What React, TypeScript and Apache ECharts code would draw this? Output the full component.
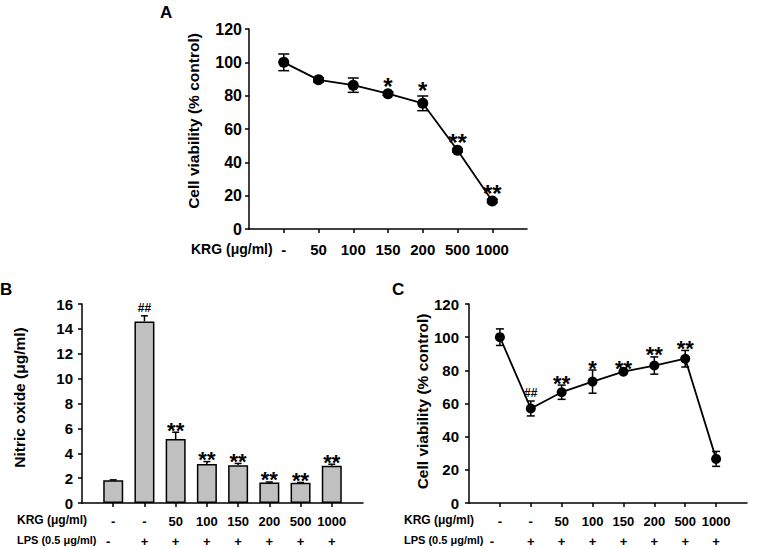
import React, { useEffect, useRef } from 'react';
import * as echarts from 'echarts';

// Panel A
const krgA = ['-', '50', '100', '150', '200', '500', '1000'];
const viabilityA = [100, 89.5, 86.3, 81.2, 75.4, 47.2, 16.8];
const viabilityAErr = [5, 1.3, 4.3, 1, 4.4, 1, 1];
const sigA = ['', '', '', '*', '*', '**', '**'];

// Panels B and C
const krgBC = ['-', '-', '50', '100', '150', '200', '500', '1000'];
const lpsBC = ['-', '+', '+', '+', '+', '+', '+', '+'];
const nitricOxide = [1.82, 14.6, 5.14, 3.13, 3.03, 1.65, 1.62, 3.0];
const nitricOxideErr = [0.04, 0.45, 0.55, 0.2, 0.15, 0.04, 0.03, 0.12];
const sigB = ['', '##', '**', '**', '**', '**', '**', '**'];

const viabilityC = [100, 57, 66.8, 73.2, 79.2, 82.9, 87, 26.6];
const viabilityCErr = [5, 4.5, 4.3, 7, 1, 5.2, 5, 4.5];
const sigC = ['', '##', '**', '*', '**', '**', '**', ''];

const FONT = '"Liberation Sans", Arial, sans-serif';
const BLACK = '#000';

const catsA = ['', ...krgA, ''];
const catsBC = ['', ...krgBC, ''];

function errRender(cap: number, upperOnly: boolean) {
  return (params: any, api: any) => {
    const x = api.value(0);
    const lo = api.value(1);
    const hi = api.value(2);
    const pHi = api.coord([x, hi]);
    const pLo = api.coord([x, lo]);
    const style = { stroke: BLACK, lineWidth: 1.5 };
    const children: any[] = [
      { type: 'line', shape: { x1: pHi[0], y1: pHi[1], x2: pLo[0], y2: pLo[1] }, style },
      { type: 'line', shape: { x1: pHi[0] - cap / 2, y1: pHi[1], x2: pHi[0] + cap / 2, y2: pHi[1] }, style },
    ];
    if (!upperOnly) {
      children.push({ type: 'line', shape: { x1: pLo[0] - cap / 2, y1: pLo[1], x2: pLo[0] + cap / 2, y2: pLo[1] }, style });
    }
    return { type: 'group', children };
  };
}

function sigData(values: number[], errs: number[], sigs: string[], starSize: number, starOff: number) {
  const out: any[] = [];
  values.forEach((v, i) => {
    const s = sigs[i];
    if (!s) return;
    const hash = s.startsWith('#');
    out.push({
      value: [i + 1, v + errs[i]],
      label: {
        show: true,
        position: 'inside',
        formatter: s,
        fontFamily: FONT,
        fontWeight: 'bold',
        fontSize: hash ? 12 : starSize,
        color: BLACK,
        textBorderWidth: 0,
        opacity: 1,
        offset: [0, hash ? -8 : starOff],
      },
    });
  });
  return out;
}

function yAxis(gridIndex: number, max: number, interval: number, name: string, nameGap: number, labelSize: number, margin: number, shiftUp: number) {
  return {
    type: 'value',
    gridIndex,
    min: 0,
    max,
    interval,
    name,
    nameLocation: 'middle',
    nameGap,
    nameTextStyle: { fontFamily: FONT, fontWeight: 'bold', fontSize: 15.5, color: BLACK, padding: [0, 0, 0, shiftUp * 2] },
    axisLine: { show: true, lineStyle: { color: BLACK, width: 1.5 } },
    axisTick: { show: true, inside: false, length: 4, lineStyle: { color: BLACK, width: 1.5 } },
    axisLabel: { fontFamily: FONT, fontWeight: 'bold', fontSize: labelSize, color: BLACK, margin },
    splitLine: { show: false },
  };
}

export default function App() {
  const ref = useRef<HTMLDivElement>(null);
  useEffect(() => {
    if (!ref.current) return;
    const chart = echarts.init(ref.current, undefined, { renderer: 'svg' });

    const lastBC = catsBC.length - 1;
    const xAxisBC = (gridIndex: number, lfPad: number) => ({
      type: 'category',
      gridIndex,
      data: catsBC,
      boundaryGap: false,
      axisLine: { show: true, lineStyle: { color: BLACK, width: 1.5 } },
      axisTick: { show: true, length: 4, interval: (i: number) => i > 0 && i < lastBC, lineStyle: { color: BLACK, width: 1.5 } },
      axisLabel: {
        interval: 0,
        margin: 8,
        formatter: (_v: string, i: number) => {
          if (i < 1 || i > krgBC.length) return '';
          const lps = lpsBC[i - 1];
          return `{k|${krgBC[i - 1]}}\n{${i === 1 ? 'lf' : 'l'}|${lps}}`;
        },
        rich: {
          k: { fontFamily: FONT, fontWeight: 'bold', fontSize: 13, color: BLACK, lineHeight: 20 },
          l: { fontFamily: FONT, fontWeight: 'bold', fontSize: 13, color: BLACK, lineHeight: 20 },
          lf: { fontFamily: FONT, fontWeight: 'bold', fontSize: 13, color: BLACK, lineHeight: 20, padding: [0, lfPad, 0, 0] },
        },
      },
      splitLine: { show: false },
    });

    const lastA = catsA.length - 1;

    chart.setOption({
      animation: false,
      backgroundColor: '#fff',
      grid: [
        { left: 249, top: 29, width: 278, height: 200, containLabel: false, outerBoundsMode: 'none' },
        { left: 82, top: 304, width: 281, height: 199, containLabel: false, outerBoundsMode: 'none' },
        { left: 469, top: 304, width: 278, height: 199, containLabel: false, outerBoundsMode: 'none' },
      ],
      xAxis: [
        {
          type: 'category',
          gridIndex: 0,
          data: catsA,
          boundaryGap: false,
          axisLine: { show: true, lineStyle: { color: BLACK, width: 1.5 } },
          axisTick: { show: true, length: 4, interval: (i: number) => i > 0 && i < lastA, lineStyle: { color: BLACK, width: 1.5 } },
          axisLabel: { interval: 0, margin: 13, fontFamily: FONT, fontWeight: 'bold', fontSize: 15, color: BLACK },
          splitLine: { show: false },
        },
        xAxisBC(1, 10),
        xAxisBC(2, 16),
      ],
      yAxis: [
        yAxis(0, 120, 20, 'Cell viability (% control)', 48, 16, 7, 8),
        yAxis(1, 16, 2, 'Nitric oxide (μg/ml)', 55, 15, 9, 6),
        yAxis(2, 120, 20, 'Cell viability (% control)', 39, 15, 10, 2),
      ],
      series: [
        {
          type: 'line',
          xAxisIndex: 0,
          yAxisIndex: 0,
          data: viabilityA.map((v, i) => [i + 1, v]),
          symbol: 'circle',
          symbolSize: 11,
          lineStyle: { color: BLACK, width: 1.8 },
          itemStyle: { color: BLACK },
          z: 2,
        },
        {
          type: 'custom',
          xAxisIndex: 0,
          yAxisIndex: 0,
          renderItem: errRender(11, false),
          encode: { x: 0, y: [1, 2] },
          data: viabilityA.map((v, i) => [i + 1, v - viabilityAErr[i], v + viabilityAErr[i]]),
          z: 3,
        },
        {
          type: 'scatter',
          xAxisIndex: 0,
          yAxisIndex: 0,
          symbolSize: 0,
          itemStyle: { color: BLACK, opacity: 1 },
          data: sigData(viabilityA, viabilityAErr, sigA, 24, -6),
          z: 4,
        },
        {
          type: 'bar',
          xAxisIndex: 1,
          yAxisIndex: 1,
          barWidth: 20,
          data: nitricOxide.map((v, i) => [i + 1, v]),
          itemStyle: { color: '#c0c0c0', borderColor: BLACK, borderWidth: 1.5 },
          z: 2,
        },
        {
          type: 'custom',
          xAxisIndex: 1,
          yAxisIndex: 1,
          renderItem: errRender(7, true),
          encode: { x: 0, y: [1, 2] },
          data: nitricOxide.map((v, i) => [i + 1, v, v + nitricOxideErr[i]]),
          z: 3,
        },
        {
          type: 'scatter',
          xAxisIndex: 1,
          yAxisIndex: 1,
          symbolSize: 0,
          itemStyle: { color: BLACK, opacity: 1 },
          data: sigData(nitricOxide, nitricOxideErr, sigB, 22, -2),
          z: 4,
        },
        {
          type: 'line',
          xAxisIndex: 2,
          yAxisIndex: 2,
          data: viabilityC.map((v, i) => [i + 1, v]),
          symbol: 'circle',
          symbolSize: 10,
          lineStyle: { color: BLACK, width: 1.8 },
          itemStyle: { color: BLACK },
          z: 2,
        },
        {
          type: 'custom',
          xAxisIndex: 2,
          yAxisIndex: 2,
          renderItem: errRender(8, false),
          encode: { x: 0, y: [1, 2] },
          data: viabilityC.map((v, i) => [i + 1, v - viabilityCErr[i], v + viabilityCErr[i]]),
          z: 3,
        },
        {
          type: 'scatter',
          xAxisIndex: 2,
          yAxisIndex: 2,
          symbolSize: 0,
          itemStyle: { color: BLACK, opacity: 1 },
          data: sigData(viabilityC, viabilityCErr, sigC, 22, -2),
          z: 4,
        },
      ],
      graphic: [
        { type: 'text', left: 160, top: 4, style: { text: 'A', font: `bold 17px ${FONT}`, fill: BLACK } },
        { type: 'text', left: 0, top: 281, style: { text: 'B', font: `bold 17px ${FONT}`, fill: BLACK } },
        { type: 'text', left: 392, top: 281, style: { text: 'C', font: `bold 17px ${FONT}`, fill: BLACK } },
        { type: 'text', left: 191, top: 242, style: { text: 'KRG (μg/ml)', font: `bold 14px ${FONT}`, fill: BLACK } },
        { type: 'text', left: 17, top: 514, style: { text: 'KRG (μg/ml)', font: `bold 12px ${FONT}`, fill: BLACK } },
        { type: 'text', left: 17, top: 534, style: { text: 'LPS (0.5 μg/ml)', font: `bold 11px ${FONT}`, fill: BLACK } },
        { type: 'text', left: 404, top: 514, style: { text: 'KRG (μg/ml)', font: `bold 12px ${FONT}`, fill: BLACK } },
        { type: 'text', left: 404, top: 534, style: { text: 'LPS (0.5 μg/ml)', font: `bold 11px ${FONT}`, fill: BLACK } },
      ],
    });
    return () => chart.dispose();
  }, []);
  return <div ref={ref} style={{ position: 'fixed', left: 0, top: 0, width: 762, height: 548 }} />;
}
